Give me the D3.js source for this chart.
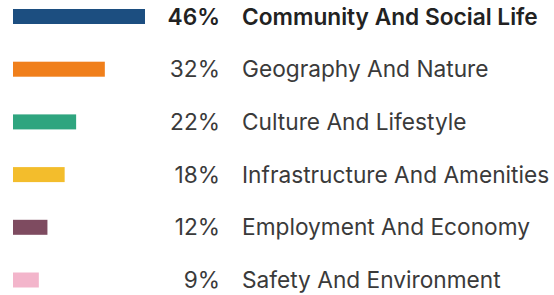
<!DOCTYPE html>
<html>
<head>
<meta charset="utf-8">
<script src="https://cdn.jsdelivr.net/npm/d3@7"></script>
<style>
  html, body { margin: 0; padding: 0; background: #fff; }
  svg { display: block; font-family: Inter, "Noto Sans", sans-serif; }
</style>
</head>
<body>
<svg id="chart" width="554" height="295"></svg>
<script>
const categories = [
  "Community And Social Life",
  "Geography And Nature",
  "Culture And Lifestyle",
  "Infrastructure And Amenities",
  "Employment And Economy",
  "Safety And Environment"
]
const shares = [46, 32, 22, 18, 12, 9]
const colors = ["#1c4e80", "#f07f1b", "#2fa57f", "#f3bd2c", "#7e4b60", "#f3b5cb"]

const data = categories.map((c, i) => ({ label: c, value: shares[i], color: colors[i] }))

const svg = d3.select("#chart")

const barH = 15
const x = d3.scaleLinear().domain([0, 46]).range([13, 145])
const y = d3.scalePoint().domain(categories).range([16.5, 280])

const row = svg
  .selectAll("g.row")
  .data(data)
  .enter()
  .append("g")
  .attr("class", "row")
  .attr("transform", d => "translate(0," + y(d.label) + ")")

row
  .append("rect")
  .attr("x", x(0))
  .attr("y", -barH / 2)
  .attr("width", d => x(d.value) - x(0))
  .attr("height", barH)
  .attr("fill", d => d.color)

// top category is emphasised
row
  .append("text")
  .attr("x", 220)
  .attr("y", 0)
  .attr("dy", "0.36em")
  .attr("text-anchor", "end")
  .attr("font-size", 22.7)
  .attr("font-weight", (d, i) => (i === 0 ? 600 : 400))
  .attr("fill", (d, i) => (i === 0 ? "#222" : "#3a3a3a"))
  .text(d => d.value + "%")

row
  .append("text")
  .attr("x", 242)
  .attr("y", 0)
  .attr("dy", "0.36em")
  .attr("font-size", 22.7)
  .attr("font-weight", (d, i) => (i === 0 ? 600 : 400))
  .attr("fill", (d, i) => (i === 0 ? "#222" : "#3a3a3a"))
  .text(d => d.label)
</script>
</body>
</html>
